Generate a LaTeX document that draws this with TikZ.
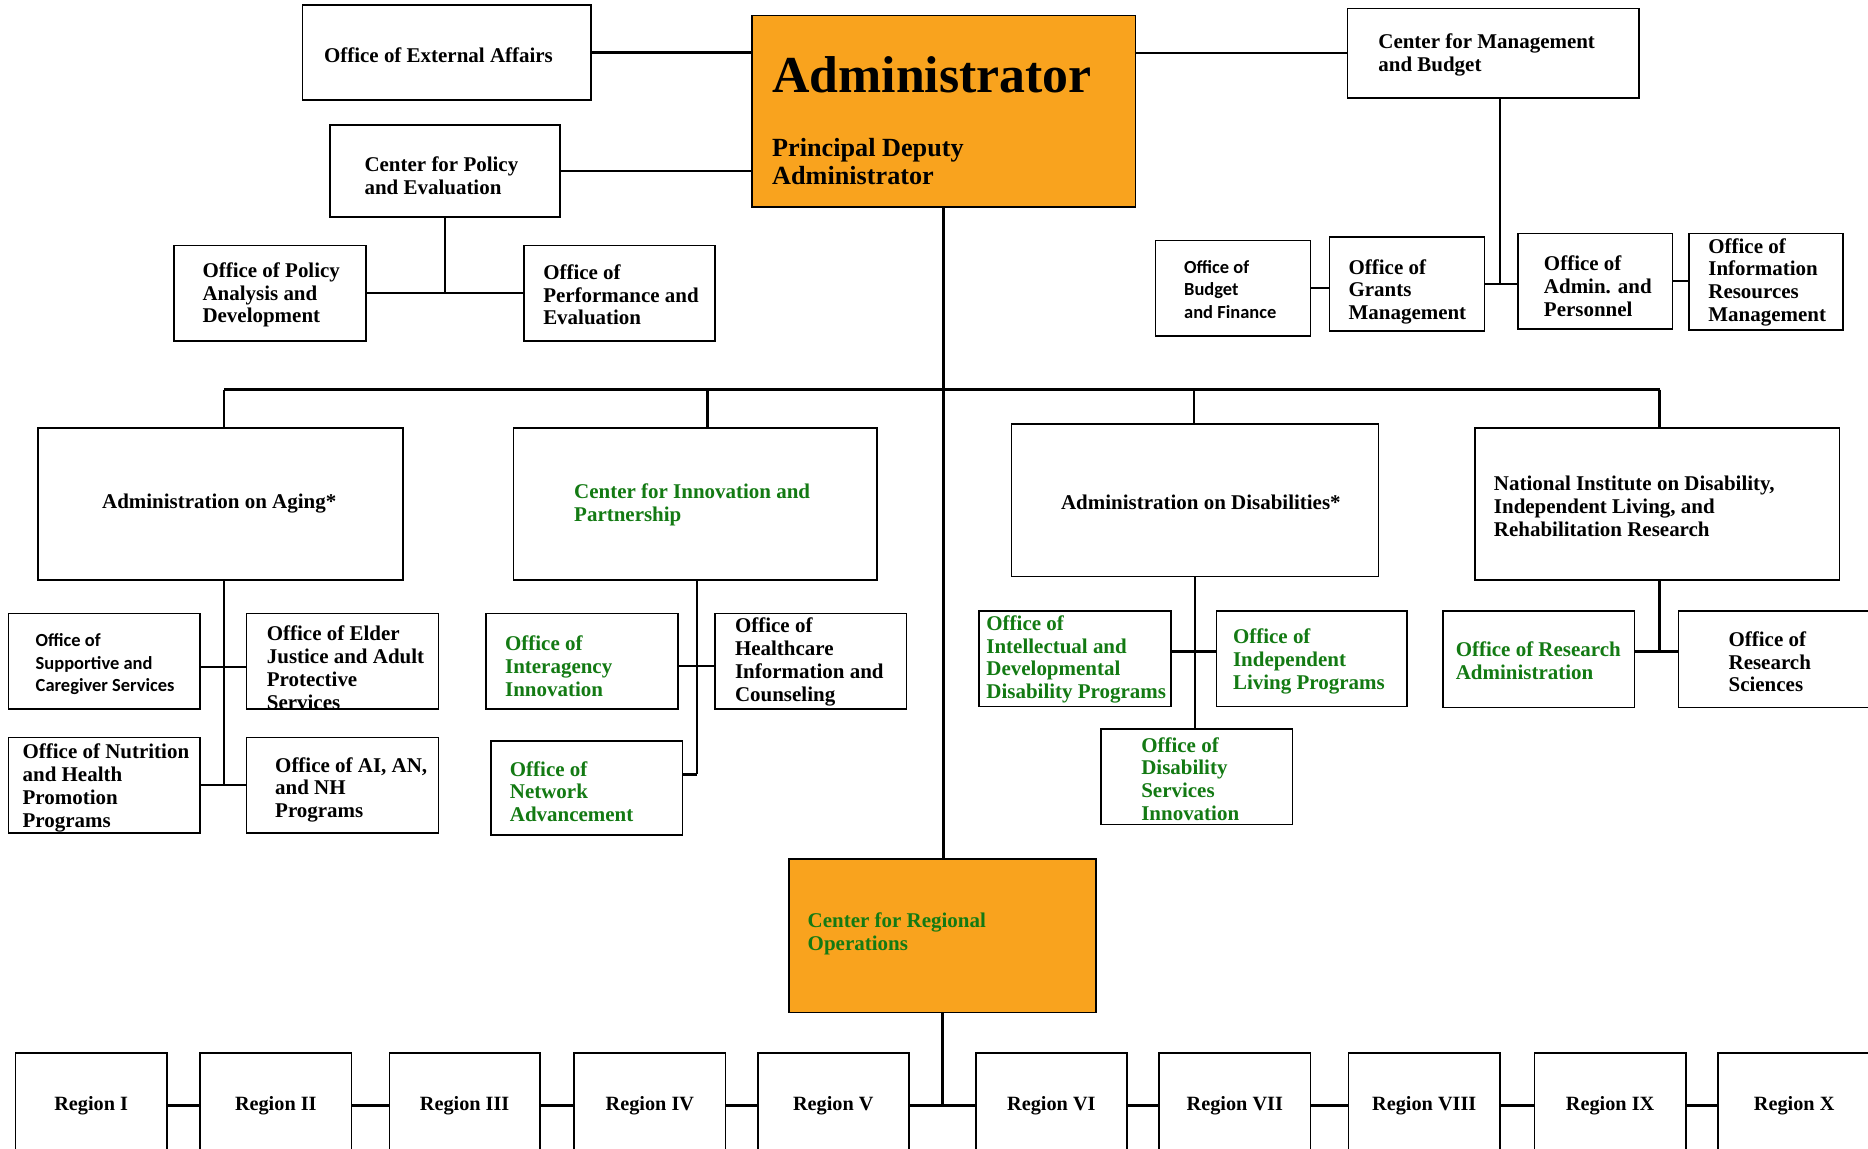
\documentclass[tikz,border=0pt]{standalone}
\usepackage{fontspec}
\setmainfont{Liberation Serif}
\newfontfamily\carl{Carlito}
\usetikzlibrary{calc}
\definecolor{orgfill}{HTML}{F9A31E}
\definecolor{grn}{HTML}{137A13}
\tikzset{
  obox/.style={draw=black,line width=1.4pt,fill=white,inner sep=0pt,outer sep=0pt,rectangle},
  orgbox/.style={fill=orgfill},
  txt/.style={inner sep=0pt,outer sep=0pt,align=left,yshift=-2pt,font=\fontsize{17.6}{19.2}\selectfont\bfseries},
  gtxt/.style={txt,text=grn},
  ctxt/.style={txt,font=\fontsize{15.5}{18.7}\selectfont\carl\bfseries},
  conn/.style={draw=black,line width=2pt},
  regbox/.style={obox,font=\fontsize{17}{19}\selectfont\bfseries}
}
% name, left, top, right, bottom
\newcommand\mkbox[6][]{\node[obox,#1,minimum width={(#5-#3)*1pt},minimum height={(#6-#4)*1pt}] (#2) at ({(#3+#5)/2},{(#4+#6)/2}) {};}
\newcommand\mktxt[5][txt]{\node[#1,anchor=west] (#2) at (#3,#4) {#5};}
\newcommand\mkreg[4]{\node[regbox,minimum width={(#3-#2)*1pt},minimum height={88pt}] (#1) at ({(#2+#3)/2},928) {#4};}
\begin{document}
\begin{tikzpicture}[x=1pt,y=-1pt]
\fill[white] (0,0) rectangle (1568,964);
\useasboundingbox (0,0) rectangle (1568,964);

% ---------- top level ----------
\mkbox{ext}{254}{4}{496}{84}
\mktxt{ext-t}{272}{44}{Office of External Affairs}
\mkbox[orgbox]{adm}{631}{13}{953}{174}
\node[inner sep=0pt,anchor=base west,font=\fontsize{43.5}{46}\selectfont\bfseries] (adm-t) at (648,78) {Administrator};
\node[inner sep=0pt,align=left,anchor=base west,font=\fontsize{22}{23.5}\selectfont\bfseries] (adm-t2) at (648,155) {Principal Deputy\\Administrator};
\mkbox{cmb}{1131}{7}{1376}{82}
\mktxt{cmb-t}{1157}{44}{Center for Management\\and Budget}
\mkbox{cpe}{277}{105}{470}{182}
\mktxt{cpe-t}{306}{145.5}{Center for Policy\\and Evaluation}
\mkbox{opad}{146}{206}{307}{286}
\mktxt{opad-t}{170}{245.5}{Office of Policy\\Analysis and\\Development}
\mkbox{ope}{440}{206}{600}{286}
\mktxt{ope-t}{456}{245.5}{Office of\\Performance and\\Evaluation}
\mkbox{budget}{970}{202}{1100}{282}
\mktxt[ctxt]{budget-t}{994}{241}{Office of\\Budget\\and Finance}
\mkbox{grants}{1116}{199}{1246}{278}
\mktxt{grants-t}{1132}{243}{Office of\\Grants\\Management}
\mkbox{adminp}{1274}{196}{1404}{276}
\mktxt{adminp-t}{1296}{238}{Office of\\Admin. and\\Personnel}
\mkbox{info}{1418}{196}{1547}{277}
\mktxt{info-t}{1434}{235}{Office of\\Information\\Resources\\Management}

% ---------- second level ----------
\mkbox{aoa}{32}{359}{338}{487}
\node[txt] (aoa-t) at (184,421) {Administration on Aging*};
\mkbox{cip}{431}{359}{736}{487}
\mktxt[gtxt]{cip-t}{482}{422}{Center for Innovation and\\Partnership}
\mkbox{aod}{849}{356}{1157}{484}
\node[txt] (aod-t) at (1008,420) {Administration on Disabilities*};
\mkbox{nid}{1238}{359}{1544}{487}
\mktxt{nid-t}{1254}{423}{National Institute on Disability,\\Independent Living, and\\Rehabilitation Research}

% ---------- AoA offices ----------
\mkbox{sup}{7}{515}{168}{595}
\mktxt[ctxt]{sup-t}{30}{555.5}{Office of\\Supportive and\\Caregiver Services}
\mkbox{elder}{207}{515}{368}{595}
\mktxt{elder-t}{224}{558.5}{Office of Elder\\Justice and Adult\\Protective\\Services}
\mkbox{nut}{7}{619}{168}{699}
\mktxt{nut-t}{19}{659.5}{Office of Nutrition\\and Health\\Promotion\\Programs}
\mkbox{ai}{207}{619}{368}{699}
\mktxt{ai-t}{231}{661}{Office of AI, AN,\\and NH\\Programs}

% ---------- CIP offices ----------
\mkbox{inter}{408}{515}{569}{595}
\mktxt[gtxt]{inter-t}{424}{557}{Office of\\Interagency\\Innovation}
\mkbox{health}{600}{515}{761}{595}
\mktxt{health-t}{617}{553.5}{Office of\\Healthcare\\Information and\\Counseling}
\mkbox{net}{412}{622}{573}{701}
\mktxt[gtxt]{net-t}{428}{662.5}{Office of\\Network\\Advancement}

% ---------- AoD offices ----------
\mkbox{idd}{822}{513}{983}{593}
\mktxt[gtxt]{idd-t}{828}{551.5}{Office of\\Intellectual and\\Developmental\\Disability Programs}
\mkbox{il}{1021}{513}{1181}{593}
\mktxt[gtxt]{il-t}{1035}{553.5}{Office of\\Independent\\Living Programs}
\mkbox{dsi}{924}{612}{1085}{692}
\mktxt[gtxt]{dsi-t}{958}{652}{Office of\\Disability\\Services\\Innovation}

% ---------- NIDILRR offices ----------
\mkbox{ora}{1211}{513}{1372}{594}
\mktxt[gtxt]{ora-t}{1222}{552.5}{Office of Research\\Administration}
\mkbox{ors}{1409}{513}{1585}{594}
\mktxt{ors-t}{1451}{553.5}{Office of\\Research\\Sciences}

% ---------- regional ----------
\mkbox[orgbox]{cro}{662}{721}{920}{850}
\mktxt[gtxt]{cro-t}{678}{782}{Center for Regional\\Operations}
\mkreg{r1}{13}{140}{Region I}
\mkreg{r2}{168}{295}{Region II}
\mkreg{r3}{327}{453}{Region III}
\mkreg{r4}{482}{609}{Region IV}
\mkreg{r5}{636}{763}{Region V}
\mkreg{r6}{819}{946}{Region VI}
\mkreg{r7}{973}{1100}{Region VII}
\mkreg{r8}{1132}{1259}{Region VIII}
\mkreg{r9}{1288}{1415}{Region IX}
\mkreg{r10}{1442}{1570}{Region X}

% ---------- connectors ----------
\draw[conn] (ext.east) -- (ext.east -| adm.west);
\draw[conn] (cpe.east) -- (cpe.east -| adm.west);
\draw[conn] (cmb.west) -- (cmb.west -| adm.east);
\coordinate (cmbV) at ($(cmb.south)+(5.5,0)$);
\draw[conn] (cmbV) -- (cmbV |- grants.east);
\draw[conn] (grants.east) -- (grants.east -| adminp.west);
\draw[conn] (budget.east) -- (budget.east -| grants.west);
\draw[conn] (adminp.east) -- (adminp.east -| info.west);
\draw[conn] (cpe.south) -- (cpe.south |- opad.east);
\draw[conn] (opad.east) -- (opad.east -| ope.west);

\draw[conn] (adm.south) -- (adm.south |- cro.north);
\coordinate (busL) at (188,327);
\coordinate (busC) at (594,327);
\coordinate (busD) at (1002,327);
\coordinate (busR) at (1393,327);
\draw[conn] (busL) -- (busR);
\draw[conn] (busL) -- (busL |- aoa.north);
\draw[conn] (busC) -- (busC |- cip.north);
\draw[conn] (busD) -- (busD |- aod.north);
\draw[conn] (busR) -- (busR |- nid.north);

\draw[conn] (busL |- aoa.south) -- (busL |- nut.east);
\coordinate (supJ) at ($(sup.east)+(0,5)$);
\draw[conn] (supJ) -- (supJ -| elder.west);
\draw[conn] (nut.east) -- (nut.east -| ai.west);

\coordinate (cipV) at ($(cip.south)+(1.5,0)$);
\coordinate (netJ) at ($(net.east)+(0,-11.5)$);
\draw[conn] (cipV) -- (cipV |- netJ);
\draw[conn] (netJ) -- (netJ -| cipV);
\coordinate (interJ) at ($(inter.east)+(0,4)$);
\draw[conn] (interJ) -- (interJ -| health.west);

\draw[conn] (aod.south) -- (aod.south |- dsi.north);
\coordinate (iddJ) at ($(idd.east)+(0,-6)$);
\draw[conn] (iddJ) -- (iddJ -| il.west);

\coordinate (oraJ) at ($(ora.east)+(0,-6.5)$);
\draw[conn] (oraJ) -- (oraJ -| ors.west);
\draw[conn] (busR |- nid.south) -- (busR |- oraJ);

\draw[conn] (cro.south) -- (cro.south |- r5.east);
\draw[conn] (r1.east) -- (r2.west);
\draw[conn] (r2.east) -- (r3.west);
\draw[conn] (r3.east) -- (r4.west);
\draw[conn] (r4.east) -- (r5.west);
\draw[conn] (r5.east) -- (r6.west);
\draw[conn] (r6.east) -- (r7.west);
\draw[conn] (r7.east) -- (r8.west);
\draw[conn] (r8.east) -- (r9.west);
\draw[conn] (r9.east) -- (r10.west);
\end{tikzpicture}
\end{document}
